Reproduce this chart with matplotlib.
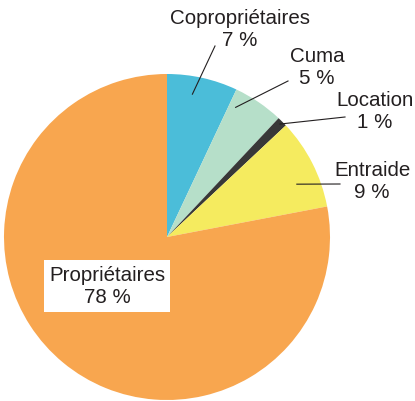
import numpy as np
import matplotlib
matplotlib.use("Agg")
from matplotlib import pyplot as plt

labels = ["Copropriétaires", "Cuma", "Location", "Entraide", "Propriétaires"]
shares = [7, 5, 1, 9, 78]
colors = ["#4bbdd9", "#b6dfc9", "#383838", "#f5eb5f", "#f8a64f"]

plt.rcParams["font.family"] = ["Liberation Sans", "DejaVu Sans"]

W, H = 415, 402
fig = plt.figure(figsize=(W / 100, H / 100), dpi=100)
ax = fig.add_axes([0, 0, 1, 1])

cx, cy, R = 167, 238, 163
# y axis points down, so start at -90 and go "counterclock" to look clockwise
wedges, _ = ax.pie(shares, colors=colors, startangle=-90, counterclock=True,
                   center=(cx, cy), radius=R, wedgeprops=dict(linewidth=0))
ax.set_xlim(0, W)
ax.set_ylim(H, 0)
ax.set_aspect("equal")
ax.axis("off")

# (label centre x, label centre y, line end x, line end y, pointer angle frac, pointer radius frac)
layout = {
    "Copropriétaires": (240, 30, 215, 47, 0.40, 0.89),
    "Cuma": (317, 67, 288, 82, 0.15, 0.90),
    "Location": (375, 112, 345, 118, 0.5, 0.98),
    "Entraide": (372, 182, 340, 185, 0.65, 0.86),
}
txt = "#231f20"
fs = 14.8
for w, lab, s in zip(wedges, labels, shares):
    text = f"{lab}\n{s} %"
    if lab in layout:
        tx, ty, lx, ly, fa, fr = layout[lab]
        a = np.deg2rad(w.theta1 + fa * (w.theta2 - w.theta1))
        px = cx + fr * R * np.cos(a)
        py = cy + fr * R * np.sin(a)
        ax.plot([lx, px], [ly, py], color=txt, lw=0.8)
        ax.text(tx, ty, text, ha="center", va="center", fontsize=fs,
                color=txt, linespacing=1.2)
    else:
        ax.text(107, 287, text, ha="center", va="center", fontsize=fs,
                color=txt, linespacing=1.2,
                bbox=dict(boxstyle="square,pad=0.25", fc="white", ec="none"))

fig.savefig("out.png", dpi=100)
